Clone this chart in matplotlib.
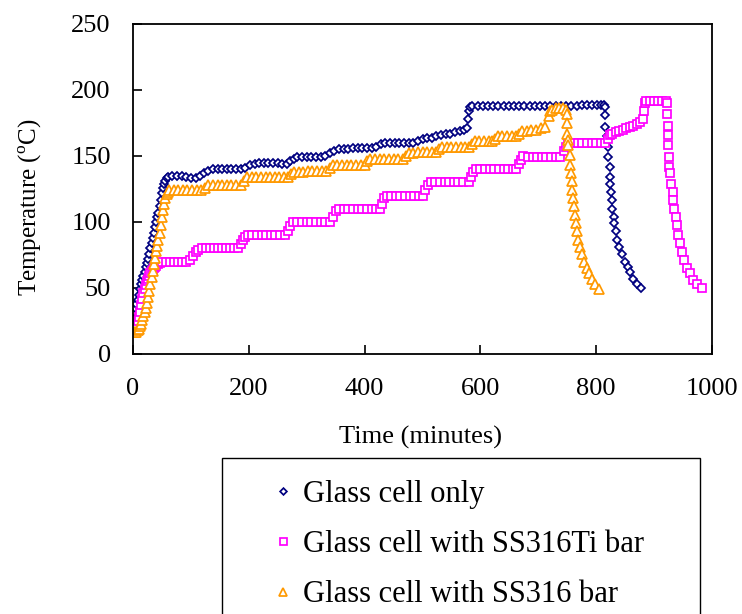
import matplotlib
matplotlib.use("Agg")
import matplotlib.pyplot as plt

plt.rcParams["font.family"] = ["Liberation Serif", "DejaVu Serif"]
plt.rcParams["mathtext.fontset"] = "custom"
plt.rcParams["mathtext.rm"] = "Liberation Serif"

# ---- data (time in minutes, temperature in degC) ----
blue_t = [0, 2, 4, 6, 8, 10, 12, 14, 16, 18, 20, 22, 24, 26, 28, 30, 32, 34, 36, 38,
          40, 42, 44, 46, 48, 50, 52, 54, 56, 58, 61,
          68, 76, 84, 92, 100, 108, 115, 122, 130, 138, 146, 154, 162, 170, 178, 186,
          194, 202, 210, 218, 226, 234, 242, 250, 258, 266, 272, 278, 284, 292, 300,
          308, 316, 324, 332, 340, 348, 356, 364, 372, 380, 388, 396, 404, 412, 420,
          428, 436, 444, 452, 460, 468, 476, 484, 492, 500, 508, 516, 524, 532, 540,
          548, 556, 564, 572, 577,
          579, 580, 582, 586, 595, 604, 613, 622, 631, 640, 649, 658, 667, 676, 685,
          694, 703, 712, 721, 730, 739, 748, 757, 766, 775, 784, 793, 802, 809, 813,
          815, 815.5, 816, 818, 820, 821, 823, 823.5, 824, 825, 827, 828, 830, 831,
          834, 836, 840, 844, 850, 855, 858, 864, 870, 878]
blue_T = [29, 32, 35, 38, 41, 45, 49, 53, 56, 59, 62, 66, 69, 72, 76, 80, 84, 88, 92, 96,
          100, 104, 107, 112, 117, 122, 126, 129, 131, 133, 134,
          135, 135, 135, 134, 133, 133, 135, 137, 139, 140, 140, 140, 140, 140, 140, 140,
          141, 143, 144, 145, 145, 145, 145, 145, 144, 144, 146, 148, 149, 149, 149,
          149, 149, 149, 150, 152, 154, 155, 155, 155, 156, 156, 156, 156, 156, 157,
          159, 160, 160, 160, 160, 160, 160, 160, 161, 163, 164, 164, 165, 166, 167,
          167, 168, 169, 170, 171,
          178, 184, 187, 188, 188, 188, 188, 188, 188, 188, 188, 188, 188, 188, 188,
          188, 188, 188, 188, 188, 188, 188, 188, 188, 189, 189, 189, 189, 189, 189,
          187, 181, 172, 165, 157, 149, 142, 134, 129, 123, 117, 110, 104, 99,
          93, 86, 81, 76, 70, 66, 62, 57, 53, 50]

pink_t = [0, 2, 4, 6, 8, 10, 12, 14, 16, 18, 20, 22, 24, 26, 28, 30, 32, 34, 36, 38,
          40, 43, 46, 50,
          57, 64, 71, 78, 85, 92, 98, 103, 108, 113, 119,
          126, 133, 140, 147, 154, 161, 168, 175, 181, 186, 190, 194, 198,
          206, 214, 222, 230, 238, 246, 254, 262, 267, 271, 276,
          284, 292, 300, 308, 316, 324, 332, 340, 345, 350, 356,
          364, 372, 380, 388, 396, 404, 412, 420, 426, 430, 434, 438,
          446, 454, 462, 470, 478, 486, 494, 500, 505, 509, 514,
          522, 530, 538, 546, 554, 562, 570, 580, 584, 588, 592,
          600, 608, 616, 624, 632, 640, 648, 656, 662, 666, 670, 674,
          682, 690, 698, 706, 714, 722, 730, 738, 744, 748, 752,
          760, 768, 776, 784, 792, 800, 808, 816, 820, 824, 828,
          834, 840, 846, 852, 858, 864, 870, 876, 880, 882, 884, 886,
          893, 900, 907, 914, 920,
          922, 923, 923.5, 924, 924.5, 926, 926.5, 927, 930, 932, 933, 935, 937,
          939, 942, 945, 948, 952, 956, 962, 968, 974, 982]
pink_T = [20, 20, 21, 23, 25, 28, 32, 37, 42, 46, 49, 52, 55, 57, 59, 61, 63, 64, 65, 66,
          67, 68, 69, 70,
          70, 70, 70, 70, 70, 70, 71, 74, 77, 79, 80,
          80, 80, 80, 80, 80, 80, 80, 80, 80, 83, 86, 89, 90,
          90, 90, 90, 90, 90, 90, 90, 90, 93, 97, 100,
          100, 100, 100, 100, 100, 100, 100, 100, 104, 108, 110,
          110, 110, 110, 110, 110, 110, 110, 110, 110, 114, 118, 120,
          120, 120, 120, 120, 120, 120, 120, 120, 124, 128, 130,
          130, 130, 130, 130, 130, 130, 130, 130, 134, 138, 140,
          140, 140, 140, 140, 140, 140, 140, 140, 140, 144, 147, 150,
          149, 149, 149, 149, 149, 149, 149, 149, 154, 157, 160,
          160, 160, 160, 160, 160, 160, 160, 160, 163, 166, 167,
          168, 169, 170, 171, 172, 173, 174, 176, 178, 184, 190, 192,
          192, 192, 192, 192, 192,
          190, 182, 173, 166, 158, 149, 142, 137, 129, 123, 117, 110, 104,
          98, 90, 84, 77, 71, 65, 61, 56, 53, 50]

orange_t = [0, 2, 4, 6, 8, 10, 12, 14, 16, 18, 20, 22, 24, 26, 28, 30, 32, 34, 36, 38,
            40, 42, 44, 46, 48, 50, 52, 54, 56, 58, 60, 63,
            70, 78, 86, 94, 102, 110, 118, 124, 130,
            138, 146, 154, 162, 170, 178, 186, 192, 197,
            205, 213, 221, 229, 237, 245, 253, 261, 268, 273, 278,
            286, 294, 302, 310, 318, 326, 334, 340, 345,
            353, 361, 369, 377, 385, 393, 400, 405, 410,
            418, 426, 434, 442, 450, 458, 466, 471, 476,
            484, 492, 500, 508, 516, 524, 529, 534,
            542, 550, 558, 566, 574, 580, 585, 590,
            598, 606, 614, 620, 625, 630, 638, 646, 654, 662, 667, 672,
            680, 688, 696, 704, 712, 718, 720, 724, 730, 736, 742, 747,
            749, 749.5, 750, 751, 752, 754, 755, 756, 758, 759, 760, 762, 763,
            765, 767, 769, 772, 775, 779, 784, 788, 792, 798, 805]
orange_T = [17, 17, 17, 17, 18, 19, 21, 23, 26, 29, 32, 35, 39, 43, 48, 53, 58, 63, 68, 73,
            78, 82, 86, 92, 98, 104, 109, 114, 118, 121, 123, 124,
            124, 124, 124, 124, 124, 124, 124, 126, 128,
            128, 128, 128, 128, 128, 128, 128, 131, 134,
            134, 134, 134, 134, 134, 134, 134, 134, 134, 136, 138,
            138, 138, 139, 139, 139, 139, 139, 141, 143,
            143, 143, 143, 143, 143, 143, 143, 146, 148,
            148, 148, 148, 148, 148, 148, 148, 150, 152,
            152, 153, 153, 153, 153, 153, 155, 157,
            157, 157, 157, 157, 157, 157, 159, 161,
            161, 161, 161, 161, 163, 165, 165, 165, 165, 165, 167, 169,
            169, 170, 170, 171, 172, 180, 184, 185, 186, 186, 186, 185,
            182, 175, 167, 162, 158, 151, 143, 137, 131, 124, 118, 112, 105,
            99, 93, 86, 81, 76, 70, 65, 61, 57, 53, 49]

labels = ["Glass cell only", "Glass cell with SS316Ti bar", "Glass cell with SS316 bar"]
x_ticks = [0, 200, 400, 600, 800, 1000]
y_ticks = [0, 50, 100, 150, 200, 250]

W, H = 742, 614
fig = plt.figure(figsize=(W / 100, H / 100), dpi=100)
ax = fig.add_axes([133 / W, 1 - 354 / H, (712 - 133) / W, (354 - 24) / H])

mk = dict(ls="none", mfc="white", mew=1.25)
h1, = ax.plot(blue_t, blue_T, marker="D", ms=4.3, mec="#000080", label=labels[0], **mk)
h2, = ax.plot(pink_t, pink_T, marker="s", ms=6.3, mec="#FF00FF", label=labels[1], **mk)
h3, = ax.plot(orange_t, orange_T, marker="^", ms=6.8, mec="#FF9900", label=labels[2], **mk)

ax.set_xlim(0, 1000)
ax.set_ylim(0, 250)
ax.set_xticks(x_ticks)
ax.set_yticks(y_ticks)
ax.tick_params(axis="both", direction="in", length=6.5, width=1.2, labelsize=19)
ax.tick_params(axis="x", pad=17)
ax.tick_params(axis="y", pad=16)
for s in ax.spines.values():
    s.set_linewidth(1.3)

fig.text(30 / W, 1 - 207 / H, "Temperature ($^{\\mathrm{o}}$C)", rotation=90,
         ha="center", va="center", fontsize=18)
fig.text(421 / W, 1 - 437 / H, "Time (minutes)", ha="center", va="center", fontsize=19)

top = 1 - 458 / H
leg = fig.legend(handles=[h1, h2, h3], loc="upper left",
                 bbox_to_anchor=(222 / W, top - 0.4, 478 / W, 0.4), mode="expand",
                 borderaxespad=0, fontsize=22, handlelength=2.57, handletextpad=-0.63,
                 borderpad=0.71, labelspacing=0.70, numpoints=1, markerscale=0.8,
                 fancybox=False, framealpha=1, edgecolor="black")
leg.get_frame().set_linewidth(1.0)

fig.savefig("out.png", dpi=100)
